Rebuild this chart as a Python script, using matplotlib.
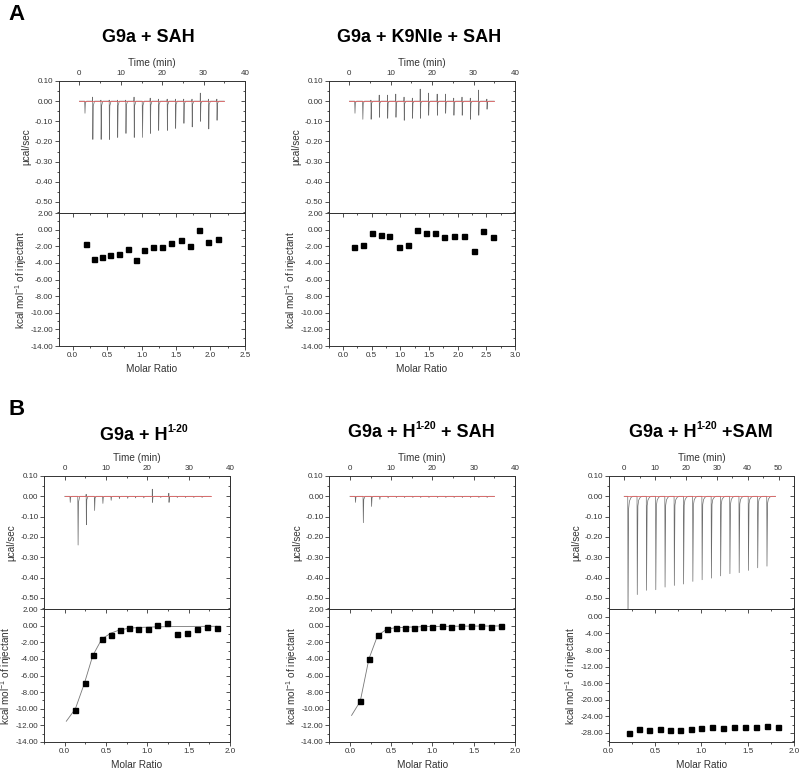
import numpy as np
import matplotlib
matplotlib.use('Agg')
import matplotlib.pyplot as plt
import matplotlib.transforms as mtransforms
from matplotlib.ticker import MultipleLocator, FuncFormatter

plt.rcParams['font.family'] = ['Liberation Sans', 'DejaVu Sans']
plt.rcParams['mathtext.fontset'] = 'custom'
plt.rcParams['mathtext.rm'] = 'Liberation Sans'
plt.rcParams['mathtext.it'] = 'Liberation Sans:italic'
plt.rcParams['mathtext.bf'] = 'Liberation Sans:bold'

# ---- raw thermograms: injection times (min), downward peak, upward blip (ucal/sec)
T35 = [1.3, 3.2, 5.2, 7.2, 9.2, 11.2, 13.2, 15.2, 17.1, 19.1, 21.2, 23.2, 25.2, 27.2, 29.2, 31.2, 33.2]
T50 = [1.2, 4.2, 7.2, 10.2, 13.2, 16.2, 19.2, 22.2, 25.2, 28.2, 31.2, 34.2, 37.2, 40.2, 43.2, 46.2]

a1_down = [-0.06, -0.19, -0.19, -0.19, -0.18, -0.16, -0.18, -0.18, -0.16, -0.145, -0.145, -0.135, -0.11, -0.128, -0.10, -0.138, -0.095]
a1_up = [0.0, 0.02, 0.005, 0.005, 0.005, 0.005, 0.02, 0.0, 0.015, 0.01, 0.01, 0.01, 0.01, 0.01, 0.04, 0.01, 0.01]
a2_down = [-0.06, -0.09, -0.09, -0.08, -0.085, -0.08, -0.095, -0.085, -0.085, -0.07, -0.07, -0.06, -0.07, -0.07, -0.09, -0.07, -0.04]
a2_up = [0.0, 0.0, 0.005, 0.03, 0.03, 0.035, 0.02, 0.015, 0.06, 0.04, 0.035, 0.035, 0.015, 0.02, 0.015, 0.055, 0.01]
b1_down = [-0.03, -0.24, -0.14, -0.07, -0.035, -0.02, -0.012, -0.01, -0.008, -0.008, -0.03, -0.006, -0.03, -0.006, -0.006, -0.006, -0.006]
b1_up = [0.0, 0.0, 0.01, 0.0, 0.0, 0.0, 0.0, 0.0, 0.0, 0.0, 0.035, 0.0, 0.015, 0.0, 0.0, 0.0, 0.0]
b2_down = [-0.03, -0.13, -0.05, -0.015, -0.008, -0.006, -0.006, -0.006, -0.006, -0.006, -0.006, -0.006, -0.006, -0.006, -0.006, -0.006, -0.006]
b2_up = [0.0] * 17
b3_down = [-0.62, -0.484, -0.463, -0.46, -0.447, -0.439, -0.432, -0.419, -0.411, -0.403, -0.392, -0.381, -0.376, -0.365, -0.352, -0.344]
b3_up = [0.0] * 16

# ---- integrated heats (kcal/mol of injectant) vs molar ratio
a1_molar = [0.19, 0.31, 0.43, 0.55, 0.67, 0.80, 0.92, 1.04, 1.17, 1.30, 1.43, 1.57, 1.70, 1.83, 1.97, 2.11]
a1_heat = [-1.77, -3.50, -3.30, -3.10, -2.90, -2.33, -3.66, -2.45, -2.13, -2.05, -1.57, -1.25, -1.93, 0.0, -1.49, -1.17]
a2_molar = [0.20, 0.35, 0.50, 0.66, 0.81, 0.97, 1.13, 1.29, 1.45, 1.61, 1.77, 1.94, 2.11, 2.28, 2.45, 2.62]
a2_heat = [-2.13, -1.85, -0.44, -0.60, -0.72, -2.09, -1.85, -0.08, -0.40, -0.36, -0.88, -0.80, -0.80, -2.53, -0.20, -0.84]
b1_molar = [0.13, 0.24, 0.34, 0.45, 0.56, 0.67, 0.78, 0.89, 1.01, 1.12, 1.24, 1.36, 1.48, 1.60, 1.72, 1.84]
b1_heat = [-10.1, -6.86, -3.57, -1.60, -1.08, -0.52, -0.32, -0.40, -0.40, 0.08, 0.32, -1.00, -0.88, -0.36, -0.12, -0.28]
b2_molar = [0.125, 0.23, 0.335, 0.45, 0.56, 0.67, 0.78, 0.89, 1.00, 1.12, 1.23, 1.35, 1.47, 1.59, 1.71, 1.83]
b2_heat = [-9.07, -3.97, -1.16, -0.40, -0.32, -0.24, -0.32, -0.20, -0.12, -0.04, -0.16, -0.04, -0.08, -0.08, -0.16, -0.04]
b3_molar = [0.22, 0.33, 0.43, 0.55, 0.66, 0.77, 0.885, 1.00, 1.11, 1.23, 1.35, 1.47, 1.59, 1.71, 1.83]
b3_heat = [-28.0, -26.96, -27.36, -27.1, -27.2, -27.28, -27.12, -26.8, -26.63, -26.8, -26.55, -26.55, -26.63, -26.23, -26.47]

# fitted binding curves
b1_fit_x = [0.02, 0.13, 0.24, 0.34, 0.45, 0.56, 0.67, 0.78, 0.90, 1.10, 1.40, 1.84]
b1_fit_y = [-11.5, -10.0, -6.9, -3.6, -1.6, -0.9, -0.5, -0.32, -0.22, -0.15, -0.10, -0.08]
b2_fit_x = [0.02, 0.125, 0.23, 0.335, 0.45, 0.56, 0.70, 1.00, 1.40, 1.83]
b2_fit_y = [-10.8, -9.1, -4.0, -1.2, -0.4, -0.25, -0.18, -0.10, -0.06, -0.04]

UP_TICKS = [0.10, 0.0, -0.10, -0.20, -0.30, -0.40, -0.50]

# spike outline: (dt after injection, fraction of the peak)
SHARP = [(0.05, 1.0), (0.15, 0.12), (0.45, 0.0)]
SLOW = [(0.05, 1.0), (0.25, 0.1), (0.5, 0.04), (1.0, 0.01), (1.6, 0.0)]

W, H = 802, 770
fig = plt.figure(figsize=(W / 100, H / 100), dpi=100)
INK = '#333333'


def px_axes(x0, y0, x1, y1):
    return fig.add_axes([x0 / W, 1 - y1 / H, (x1 - x0) / W, (y1 - y0) / H])


def thermogram(times, downs, ups, t_end, shape):
    tt = [0.0]
    yy = [0.0]
    for t, d, u in zip(times, downs, ups):
        tt.append(t - 0.03)
        yy.append(0.0)
        if u:
            tt.append(t)
            yy.append(u)
        for dt, f in shape:
            tt.append(t + dt)
            yy.append(d * f)
    tt.append(t_end)
    yy.append(0.0)
    return tt, yy


def fmt(n):
    return FuncFormatter(lambda v, p: f"{round(v, n) + 0.0:.{n}f}")


def tidy(ax):
    for s in ax.spines.values():
        s.set_linewidth(0.7)
        s.set_color(INK)
    ax.tick_params(which='both', width=0.6, color=INK, labelcolor=INK, labelsize=5.8)
    ax.tick_params(which='major', length=3)
    ax.tick_params(which='minor', length=1.6)


def panel(x0, x1, y_top, y_mid, y_bot, trace, tlim, tticks,
          molar, heat, mlim, mticks, hlim, hticks, hminor, fit=None):
    # upper: raw heat rate
    up = px_axes(x0, y_top, x1, y_mid)
    tt, yy = trace
    up.plot(tt, yy, color='#6b6b6b', lw=0.5)
    up.plot([0, tt[-1]], [0, 0], color='#e06666', lw=0.6)
    up.set_xlim(tlim)
    up.set_ylim(-0.555, 0.10)
    up.xaxis.tick_top()
    up.xaxis.set_label_position('top')
    up.set_xticks(tticks)
    up.xaxis.set_minor_locator(MultipleLocator(5))
    up.xaxis.set_major_formatter(fmt(0))
    up.set_yticks(UP_TICKS)
    up.yaxis.set_minor_locator(MultipleLocator(0.05))
    up.yaxis.set_major_formatter(fmt(2))
    tidy(up)
    up.tick_params(axis='x', which='both', direction='in', top=True, bottom=False,
                   labeltop=True, labelbottom=False, pad=3)
    up.tick_params(axis='y', which='both', direction='out', left=True, right=False, pad=1)
    sec = up.secondary_yaxis('right')
    sec.set_yticks(UP_TICKS)
    sec.yaxis.set_minor_locator(MultipleLocator(0.05))
    tidy(sec)
    sec.tick_params(which='both', direction='in', labelright=False)
    up.set_xlabel('Time (min)', fontsize=7.2, color=INK, labelpad=3)
    up.set_ylabel('µcal/sec', fontsize=7.2, color=INK, labelpad=2.5)

    # lower: integrated heats
    lo = px_axes(x0, y_mid, x1, y_bot)
    if fit is not None:
        lo.plot(fit[0], fit[1], color='#777777', lw=0.6)
    lo.plot(molar, heat, 's', color='black', ms=3.6)
    lo.set_xlim(mlim)
    lo.set_ylim(hlim)
    lo.set_xticks(mticks)
    lo.xaxis.set_minor_locator(MultipleLocator(0.25))
    lo.xaxis.set_major_formatter(fmt(1))
    lo.set_yticks(hticks)
    lo.yaxis.set_minor_locator(MultipleLocator(hminor))
    lo.yaxis.set_major_formatter(fmt(2))
    tidy(lo)
    lo.tick_params(which='both', direction='out', top=False, right=False)
    lo.tick_params(axis='x', pad=1.5)
    lo.tick_params(axis='y', pad=1)
    sx = lo.secondary_xaxis('top')
    sx.set_xticks(mticks)
    sx.xaxis.set_minor_locator(MultipleLocator(0.25))
    tidy(sx)
    sx.tick_params(which='both', direction='in', labeltop=False)
    sy = lo.secondary_yaxis('right')
    sy.set_yticks(hticks)
    sy.yaxis.set_minor_locator(MultipleLocator(hminor))
    tidy(sy)
    sy.tick_params(which='both', direction='in', labelright=False)
    lo.set_xlabel('Molar Ratio', fontsize=7.2, color=INK, labelpad=3.5)
    lo.set_ylabel('kcal mol$^{-1}$ of injectant', fontsize=7.2, color=INK, labelpad=1)


def title(xc, base, parts):
    # parts: (text, fontsize, raise in px); laid out left to right, centred on xc
    r = fig.canvas.get_renderer()
    tr = mtransforms.IdentityTransform()
    objs = []
    x = 0.0
    for s, size, dy in parts:
        t = fig.text(x, H - base + dy, s, fontsize=size, fontweight='bold',
                     ha='left', va='baseline', transform=tr)
        w = t.get_window_extent(renderer=r).width
        objs.append((t, x))
        x += w
    shift = xc - x / 2
    for t, x_left in objs:
        t.set_x(x_left + shift)


h14 = [2, 0, -2, -4, -6, -8, -10, -12, -14]
h28 = [0, -4, -8, -12, -16, -20, -24, -28]

panel(58.7, 245, 81, 213, 346, thermogram(T35, a1_down, a1_up, 35.0, SHARP),
      (-5, 40), [0, 10, 20, 30, 40], a1_molar, a1_heat, (-0.2, 2.5),
      [0, 0.5, 1.0, 1.5, 2.0, 2.5], (-14, 2), h14, 1)
panel(328.7, 515, 81, 213, 346, thermogram(T35, a2_down, a2_up, 35.0, SHARP),
      (-5, 40), [0, 10, 20, 30, 40], a2_molar, a2_heat, (-0.25, 3.0),
      [0, 0.5, 1.0, 1.5, 2.0, 2.5, 3.0], (-14, 2), h14, 1)
panel(44, 230, 476, 609, 742, thermogram(T35, b1_down, b1_up, 35.3, SHARP),
      (-5, 40), [0, 10, 20, 30, 40], b1_molar, b1_heat, (-0.25, 2.0),
      [0, 0.5, 1.0, 1.5, 2.0], (-14, 2), h14, 1, fit=(b1_fit_x, b1_fit_y))
panel(329.3, 515, 476, 609, 742, thermogram(T35, b2_down, b2_up, 35.0, SHARP),
      (-5, 40), [0, 10, 20, 30, 40], b2_molar, b2_heat, (-0.25, 2.0),
      [0, 0.5, 1.0, 1.5, 2.0], (-14, 2), h14, 1, fit=(b2_fit_x, b2_fit_y))
panel(608.7, 794, 476, 609, 742, thermogram(T50, b3_down, b3_up, 49.0, SLOW),
      (-5, 55), [0, 10, 20, 30, 40, 50], b3_molar, b3_heat, (0, 2.0),
      [0, 0.5, 1.0, 1.5, 2.0], (-30.2, 1.9), h28, 2)

title(148.8, 41.7, [('G9a + SAH', 13, 0)])
title(419, 41.7, [('G9a + K9Nle + SAH', 13, 0)])
title(144, 440, [('G9a + H', 13, 0), ('1-20', 7.5, 8)])
title(421.7, 436.7, [('G9a + H', 13, 0), ('1-20', 7.5, 8), (' + SAH', 13, 0)])
title(701, 437, [('G9a + H', 13, 0), ('1-20', 7.5, 8), (' +SAM', 13, 0)])

fig.text(8 / W, 1 - 15 / H, 'A', fontsize=16, fontweight='bold', ha='left', va='center')
fig.text(8 / W, 1 - 409.5 / H, 'B', fontsize=16, fontweight='bold', ha='left', va='center')

fig.savefig('out.png', dpi=100)
